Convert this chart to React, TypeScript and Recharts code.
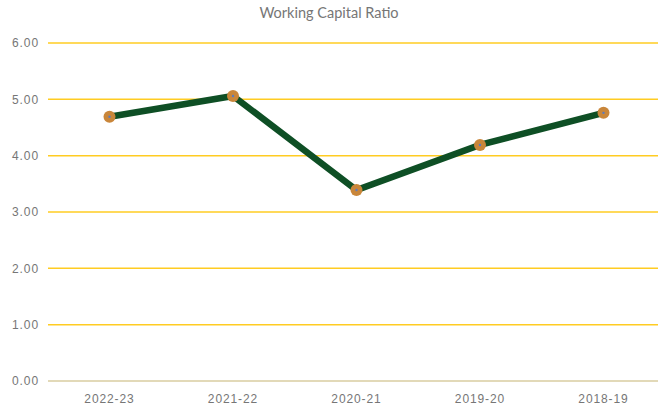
import React from "react";
import { LineChart, Line, XAxis, YAxis, CartesianGrid } from "recharts";

const categories = ["2022-23", "2021-22", "2020-21", "2019-20", "2018-19"];
const ratios = [4.69, 5.06, 3.39, 4.19, 4.76];
const yTicks = [0, 1, 2, 3, 4, 5, 6];
const title = "Working Capital Ratio";

const data = categories.map((c, i) => ({ name: c, value: ratios[i] }));

const Dot = (props: any) => {
  const { cx, cy } = props;
  if (cx == null || cy == null) return null;
  return (
    <g>
      <circle cx={cx} cy={cy} r={6} fill="#C9863A" />
      <circle cx={cx} cy={cy} r={1.2} fill="#5B7BC0" />
    </g>
  );
};

const tickStyle = {
  fill: "#767676",
  fontSize: 12,
  letterSpacing: 0.9,
  fontFamily: "Arial, 'Liberation Sans', sans-serif",
};

export default function App() {
  return (
    <div
      style={{
        position: "absolute",
        left: 0,
        top: 0,
        width: 658,
        height: 408,
        overflow: "hidden",
        background: "#fff",
      }}
    >
      <div
        style={{
          position: "absolute",
          top: 4,
          left: 0,
          width: 658,
          textAlign: "center",
          fontFamily: "Lato, 'Open Sans', sans-serif",
          fontSize: 14.5,
          color: "#767676",
        }}
      >
        {title}
      </div>
      <LineChart
        width={665}
        height={408}
        data={data}
        margin={{ top: 43, right: 0, bottom: 0, left: 0 }}
      >
        <CartesianGrid vertical={false} stroke="#FFCC22" strokeWidth={1.5} />
        <XAxis
          dataKey="name"
          height={27}
          padding={{ left: 61.5, right: 61.5 }}
          tickLine={false}
          axisLine={{ stroke: "#D9D9D9", strokeWidth: 1.5 }}
          tickMargin={7}
          tick={tickStyle}
        />
        <YAxis
          width={48}
          domain={[0, 6]}
          ticks={yTicks}
          tickFormatter={(v: number) => v.toFixed(2)}
          tickLine={false}
          axisLine={false}
          tickMargin={3}
          tick={tickStyle}
        />
        <Line
          type="linear"
          dataKey="value"
          stroke="#0E4F25"
          strokeWidth={6.5}
          dot={<Dot />}
          activeDot={false}
          isAnimationActive={false}
        />
      </LineChart>
    </div>
  );
}
